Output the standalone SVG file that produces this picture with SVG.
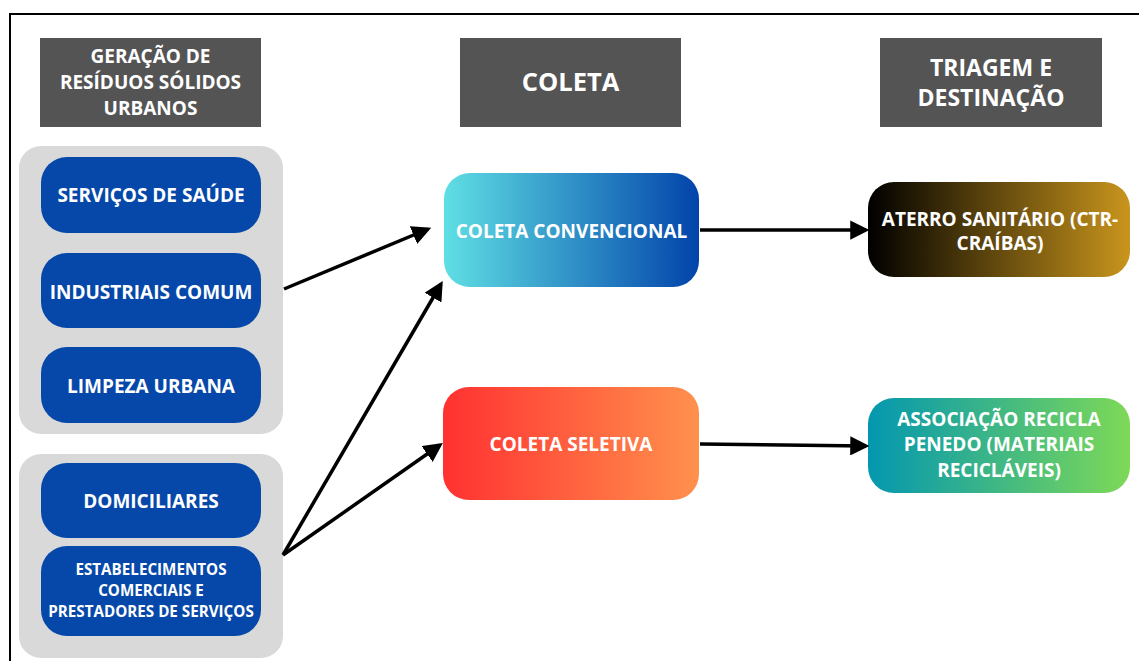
<svg xmlns="http://www.w3.org/2000/svg" width="1139" height="661" viewBox="0 0 1139 661">
<style>
.hdr{fill:#545454}
.hdrt{fill:#fff;font-family:"Open Sans","Liberation Sans",sans-serif;font-weight:bold;text-anchor:middle}
.grp{fill:#d9d9d9}
.blue{fill:#0648a9}
.t{fill:#fff;font-family:"Open Sans","Liberation Sans",sans-serif;font-weight:bold;text-anchor:middle;font-size:19px}
.small{font-size:15.2px}
.edge{stroke:#000;stroke-width:3.5;fill:none;marker-end:url(#ah)}
</style>
<defs>
<marker id="ah" markerWidth="5.5" markerHeight="5.5" refX="4.5" refY="2.75" orient="auto" markerUnits="strokeWidth">
<path d="M0,0 L5.5,2.75 L0,5.5 Z" fill="#000"/>
</marker>
<linearGradient id="gConv" x1="0" x2="1" y1="0" y2="0"><stop offset="0" stop-color="#5fdfe4"/><stop offset="1" stop-color="#0244aa"/></linearGradient>
<linearGradient id="gSel" x1="0" x2="1" y1="0" y2="0"><stop offset="0" stop-color="#ff3131"/><stop offset="1" stop-color="#ff914d"/></linearGradient>
<linearGradient id="gAt" x1="0" x2="1" y1="0" y2="0"><stop offset="0" stop-color="#000000"/><stop offset="1" stop-color="#c9951c"/></linearGradient>
<linearGradient id="gAs" x1="0" x2="1" y1="0" y2="0"><stop offset="0" stop-color="#0397b0"/><stop offset="1" stop-color="#7ed957"/></linearGradient>
</defs>
<rect width="1139" height="661" fill="#fff"/>
<path d="M10,661 L10,14 L1139,14" stroke="#000" stroke-width="2" fill="none"/>

<g id="hdr1"><rect class="hdr" x="40" y="38" width="221" height="89"/>
<text class="hdrt" font-size="19"><tspan x="150.5" y="63">GERAÇÃO DE</tspan><tspan x="150.5" y="89">RESÍDUOS SÓLIDOS</tspan><tspan x="150.5" y="115">URBANOS</tspan></text></g>
<g id="hdr2"><rect class="hdr" x="460" y="38" width="221" height="89"/>
<text class="hdrt" font-size="25.5" x="570.5" y="91">COLETA</text></g>
<g id="hdr3"><rect class="hdr" x="880" y="38" width="222" height="89"/>
<text class="hdrt" font-size="23"><tspan x="991" y="76">TRIAGEM E</tspan><tspan x="991" y="106">DESTINAÇÃO</tspan></text></g>

<g id="grupo1"><rect class="grp" x="19" y="146" width="264" height="288" rx="22"/></g>
<g id="grupo2"><rect class="grp" x="19" y="454" width="264" height="204" rx="22"/></g>

<g id="saude"><rect class="blue" x="41" y="157" width="220" height="76" rx="26"/><text class="t" x="151" y="202">SERVIÇOS DE SAÚDE</text></g>
<g id="industriais"><rect class="blue" x="41" y="253" width="220" height="75" rx="26"/><text class="t" x="151" y="299">INDUSTRIAIS COMUM</text></g>
<g id="limpeza"><rect class="blue" x="41" y="347" width="220" height="76" rx="26"/><text class="t" x="151" y="393">LIMPEZA URBANA</text></g>
<g id="domiciliares"><rect class="blue" x="41" y="463" width="220" height="75" rx="26"/><text class="t" x="151" y="508">DOMICILIARES</text></g>
<g id="estabelecimentos"><rect class="blue" x="41" y="546" width="220" height="90" rx="26"/>
<text class="t small"><tspan x="151" y="575">ESTABELECIMENTOS</tspan><tspan x="151" y="596">COMERCIAIS E</tspan><tspan x="151" y="617">PRESTADORES DE SERVIÇOS</tspan></text></g>

<g id="convencional"><rect x="444" y="173" width="255" height="114" rx="26" fill="url(#gConv)"/><text class="t" x="571.5" y="238">COLETA CONVENCIONAL</text></g>
<g id="seletiva"><rect x="443" y="387" width="256" height="113" rx="26" fill="url(#gSel)"/><text class="t" x="571" y="451">COLETA SELETIVA</text></g>
<g id="aterro"><rect x="868" y="182" width="262" height="95" rx="26" fill="url(#gAt)"/>
<text class="t"><tspan x="1000" y="226">ATERRO SANITÁRIO (CTR-</tspan><tspan x="1000" y="250">CRAÍBAS)</tspan></text></g>
<g id="associacao"><rect x="868" y="398" width="262" height="95" rx="26" fill="url(#gAs)"/>
<text class="t"><tspan x="999" y="426">ASSOCIAÇÃO RECICLA</tspan><tspan x="999" y="451">PENEDO (MATERIAIS</tspan><tspan x="999" y="477">RECICLÁVEIS)</tspan></text></g>

<g id="connectors">
<line class="edge" x1="284" y1="289" x2="428" y2="229"/>
<line class="edge" x1="283" y1="555" x2="441" y2="284"/>
<line class="edge" x1="283" y1="555" x2="440" y2="445"/>
<line class="edge" x1="700" y1="230" x2="866" y2="230"/>
<line class="edge" x1="700" y1="444" x2="866" y2="446"/>
</g>
</svg>
